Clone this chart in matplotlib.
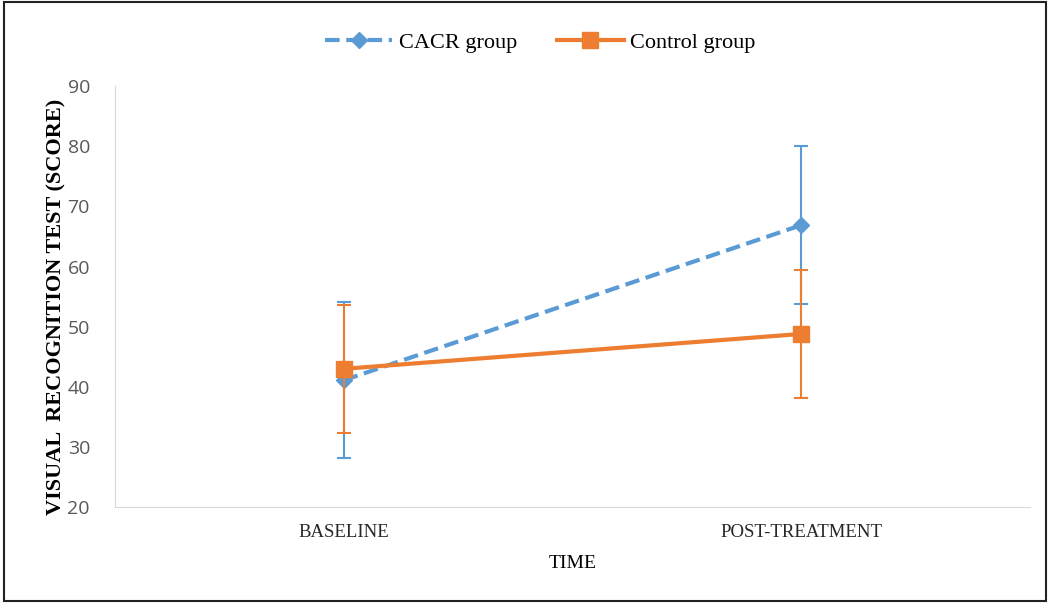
import matplotlib.pyplot as plt
from matplotlib.patches import Rectangle
from matplotlib.lines import Line2D

# data
time_points = ["BASELINE", "POST-TREATMENT"]
cacr_mean = [41.1, 66.9]
cacr_sd = [13.0, 13.2]
control_mean = [43.0, 48.8]
control_sd = [10.6, 10.6]

blue = "#5B9BD5"
orange = "#ED7D31"
cacr_ls = (0, (3.5, 1.6))

fig = plt.figure(figsize=(10.5, 6.03), dpi=100)
ax = fig.add_axes([0.1095, 0.159, 0.8715, 0.698])

x = list(range(len(time_points)))

ax.errorbar(x, cacr_mean, yerr=cacr_sd, color=blue, ls=cacr_ls, lw=3,
            marker="D", ms=8, ecolor=blue, elinewidth=1.5, capsize=5, capthick=1.5,
            zorder=3)
ax.errorbar(x, control_mean, yerr=control_sd, color=orange, ls="-", lw=3,
            marker="s", ms=11, ecolor=orange, elinewidth=1.5, capsize=5, capthick=1.5,
            zorder=4)

ax.set_xlim(-0.5, 1.5)
ax.set_ylim(20, 90)
ax.set_yticks(range(20, 91, 10))
ax.set_xticks(x)
ax.set_xticklabels(time_points, family="Liberation Serif", fontsize=13.5, color="#262626")
ax.tick_params(axis="y", labelsize=14, labelcolor="#595959", length=0, pad=18)
ax.tick_params(axis="x", length=0, pad=12)
for lbl in ax.get_yticklabels():
    lbl.set_family("Open Sans")

for s in ["top", "right"]:
    ax.spines[s].set_visible(False)
ax.spines["left"].set_color("#D9D9D9")
ax.spines["bottom"].set_color("#D9D9D9")

ax.set_xlabel("TIME", family="Liberation Serif", fontsize=14, labelpad=10)
ax.set_ylabel("VISUAL  RECOGNITION TEST (SCORE)", family="Liberation Serif",
              fontsize=16, fontweight="bold")
ax.yaxis.set_label_coords(-0.053, 0.475)

handles = [
    Line2D([], [], color=blue, ls=cacr_ls, lw=3, marker="D", ms=8),
    Line2D([], [], color=orange, ls="-", lw=3, marker="s", ms=11),
]
ax.legend(handles, ["CACR group", "Control group"], loc="upper center",
          bbox_to_anchor=(0.465, 1.175), ncol=2, frameon=False,
          prop={"family": "Liberation Serif", "size": 16}, handlelength=3.0,
          columnspacing=1.8, handletextpad=0.3)

fig.patches.append(Rectangle((0.004, 0.003), 0.992, 0.994, transform=fig.transFigure,
                             fill=False, edgecolor="#222222", lw=1.5))

fig.savefig("out.png", dpi=100)
